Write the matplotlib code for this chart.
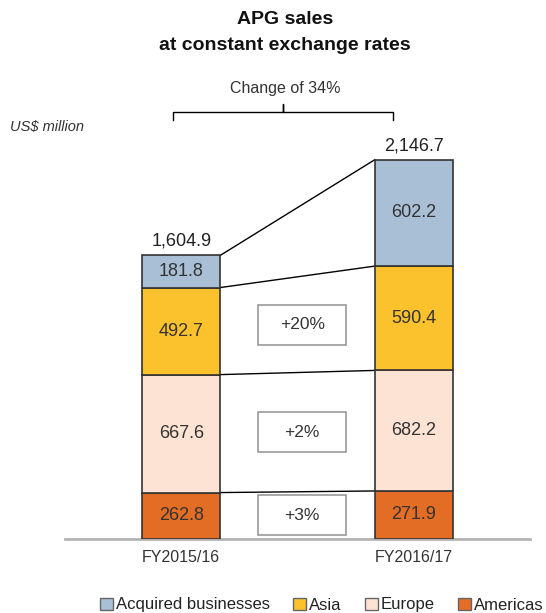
import matplotlib.pyplot as plt
from matplotlib.patches import Patch, Rectangle
from matplotlib.lines import Line2D

plt.rcParams['font.family'] = ['Liberation Sans', 'DejaVu Sans']

# sales by region, US$ million
years = ["FY2015/16", "FY2016/17"]
segments = ["Americas", "Europe", "Asia", "Acquired businesses"]
americas = [262.8, 271.9]
europe = [667.6, 682.2]
asia = [492.7, 590.4]
acquired = [181.8, 602.2]
totals = [1604.9, 2146.7]
changes = ["+3%", "+2%", "+20%"]
total_change = "Change of 34%"

colors = {"Americas": "#e46d25", "Europe": "#fde3d3",
          "Asia": "#fcc22d", "Acquired businesses": "#a9bfd6"}
edge = "#333333"
W, H = 546, 613

fig = plt.figure(figsize=(W / 100, H / 100), dpi=100)
ax = fig.add_axes([65 / W, (H - 539) / H, (530 - 65) / W, 439 / H])

series = [americas, europe, asia, acquired]
width = 0.335
x = [0, 1]
bottoms = [0, 0]
levels = []
for name, vals in zip(segments, series):
    ax.bar(x, vals, width, bottom=bottoms, color=colors[name],
           edgecolor=edge, linewidth=1.2, zorder=3)
    for i in x:
        ax.text(i, bottoms[i] + vals[i] / 2, f"{vals[i]:.1f}", ha="center",
                va="center", fontsize=13, color="#333333", zorder=4)
    mids = [bottoms[i] + vals[i] / 2 for i in x]
    bottoms = [bottoms[i] + vals[i] for i in x]
    levels.append((list(bottoms), mids))

# connector lines between the bars
for tops, mids in levels:
    ax.plot([width / 2, 1 - width / 2], tops, color="black", lw=1, zorder=2)

# change boxes for the regional bands
for (tops, mids), label in zip(levels[:3], changes):
    ym = sum(mids) / 2
    bw, bh = 0.38, 226
    ax.add_patch(Rectangle((0.52 - bw / 2, ym - bh / 2), bw, bh,
                           facecolor="white", edgecolor="#999999", lw=1.2, zorder=3))
    ax.text(0.52, ym, label, ha="center", va="center", fontsize=12.5,
            color="#333333", zorder=4)

for i in x:
    ax.annotate(f"{totals[i]:,.1f}", (i, totals[i]), xytext=(0, 4),
                textcoords="offset points", ha="center", va="bottom",
                fontsize=13, color="#222222")

ax.set_xlim(-0.5, 1.5)
ax.set_ylim(0, 439 / (379.3 / 2146.7))
ax.set_xticks(x)
ax.set_xticklabels(years, fontsize=11.5, color="#333333")
ax.tick_params(axis="x", length=0, pad=8)
ax.set_yticks([])
for s in ["top", "left", "right"]:
    ax.spines[s].set_visible(False)
ax.spines["bottom"].set_color("#b3b3b3")
ax.spines["bottom"].set_linewidth(2)

fig.text(285 / W, 1 - 19 / H, "APG sales", ha="center", va="center",
         fontsize=14, fontweight="bold", color="#111111")
fig.text(285 / W, 1 - 46 / H, "at constant exchange rates", ha="center",
         va="center", fontsize=14, fontweight="bold", color="#111111")
fig.text(285 / W, 1 - 88 / H, total_change, ha="center", va="center",
         fontsize=11.5, color="#333333")
fig.text(10 / W, 1 - 127 / H, "US$ million", ha="left", va="center",
         fontsize=10.5, style="italic", color="#333333")

# curly bracket above the bars
bx = [173, 173, 283, 283, 283, 393, 393]
by = [120, 112, 112, 104, 112, 112, 120]
fig.add_artist(Line2D([v / W for v in bx], [1 - v / H for v in by],
                      color="black", lw=1))

handles = [Patch(facecolor=colors[n], edgecolor="#666666", lw=1)
           for n in ["Acquired businesses", "Asia", "Europe", "Americas"]]
fig.legend(handles, ["Acquired businesses", "Asia", "Europe", "Americas"],
           loc="center", bbox_to_anchor=(322 / W, 1 - 605 / H), ncol=4,
           frameon=False, fontsize=12, handlelength=0.75, handleheight=0.75,
           handletextpad=0.2, columnspacing=1.4, labelcolor="#222222")

fig.savefig("out.png", dpi=100)
